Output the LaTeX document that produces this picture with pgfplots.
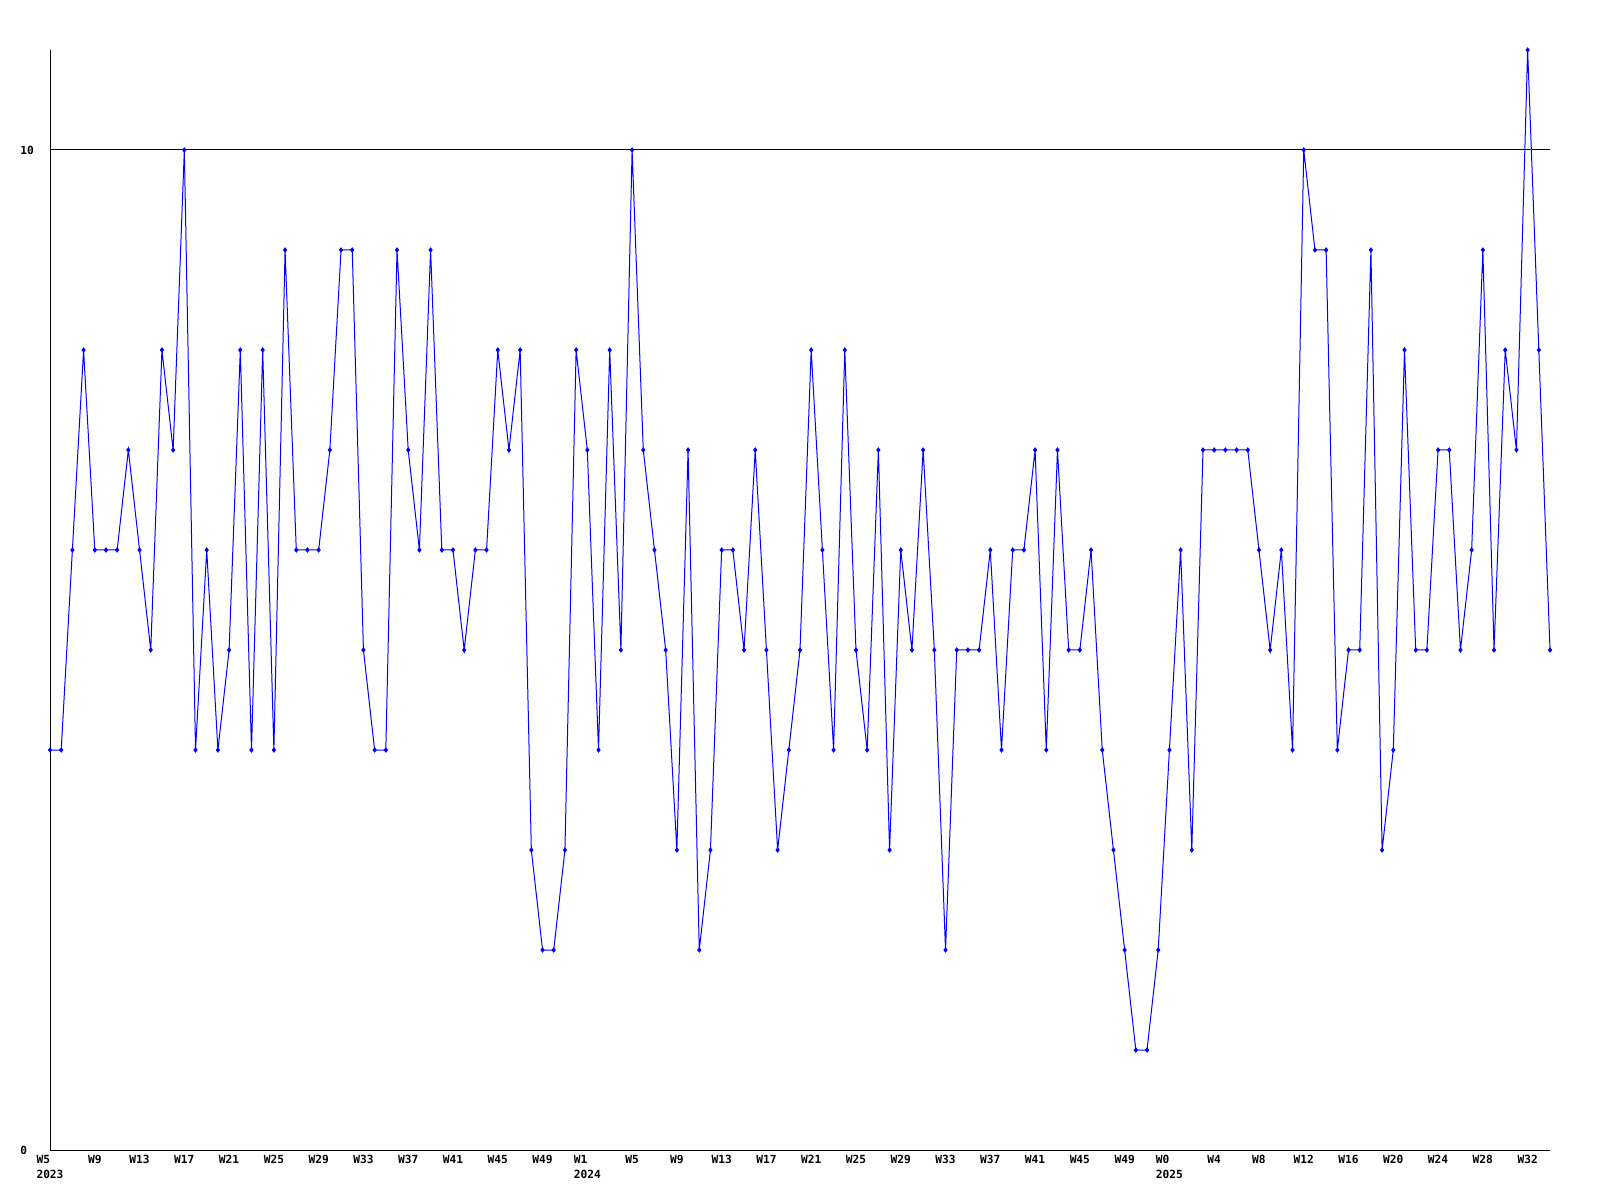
\documentclass[border=0pt]{standalone}
\usepackage{pgfplots}
\pgfplotsset{compat=1.18}
\usepackage{fontspec}
\setmainfont{DejaVu Sans Mono}
\definecolor{lineblue}{RGB}{0,0,255}
\begin{document}
\begin{tikzpicture}
\path[fill=white] (0,0) rectangle (800pt,600pt);
\begin{axis}[
  at={(25pt,25pt)}, anchor=south west,
  scale only axis, width=750pt, height=550pt,
  xmin=0, xmax=134, ymin=0, ymax=11,
  axis x line*=bottom, axis y line*=left,
  axis line style={-, black, line width=0.5pt},
  major tick length=0pt,
  ytick={0,10},
  ymajorgrids, grid style={black, line width=0.5pt},
  xtick={0,4,...,132},
  xticklabels={{W5\\2023},W9,W13,W17,W21,W25,W29,W33,W37,W41,W45,W49,{W1\\2024},W5,W9,W13,W17,W21,W25,W29,W33,W37,W41,W45,W49,{W0\\2025},W4,W8,W12,W16,W20,W24,W28,W32},
  xticklabel style={font=\fontsize{5.6}{7.5}\selectfont\bfseries, inner sep=0pt, yshift=-2.5pt, align=left, anchor=north},
  yticklabel style={font=\fontsize{5.6}{7.5}\selectfont\bfseries, inner sep=0pt, anchor=west, xshift=-15pt},
  /pgf/number format/assume math mode=true,
  clip=false,
]
\addplot[lineblue, line width=0.5pt, mark=diamond*, mark size=1pt, mark options={solid, fill=lineblue}] coordinates {
(0,4) (1,4) (2,6) (3,8) (4,6) (5,6) (6,6) (7,7) (8,6) (9,5)
(10,8) (11,7) (12,10) (13,4) (14,6) (15,4) (16,5) (17,8) (18,4) (19,8)
(20,4) (21,9) (22,6) (23,6) (24,6) (25,7) (26,9) (27,9) (28,5) (29,4)
(30,4) (31,9) (32,7) (33,6) (34,9) (35,6) (36,6) (37,5) (38,6) (39,6)
(40,8) (41,7) (42,8) (43,3) (44,2) (45,2) (46,3) (47,8) (48,7) (49,4)
(50,8) (51,5) (52,10) (53,7) (54,6) (55,5) (56,3) (57,7) (58,2) (59,3)
(60,6) (61,6) (62,5) (63,7) (64,5) (65,3) (66,4) (67,5) (68,8) (69,6)
(70,4) (71,8) (72,5) (73,4) (74,7) (75,3) (76,6) (77,5) (78,7) (79,5)
(80,2) (81,5) (82,5) (83,5) (84,6) (85,4) (86,6) (87,6) (88,7) (89,4)
(90,7) (91,5) (92,5) (93,6) (94,4) (95,3) (96,2) (97,1) (98,1) (99,2)
(100,4) (101,6) (102,3) (103,7) (104,7) (105,7) (106,7) (107,7) (108,6) (109,5)
(110,6) (111,4) (112,10) (113,9) (114,9) (115,4) (116,5) (117,5) (118,9) (119,3)
(120,4) (121,8) (122,5) (123,5) (124,7) (125,7) (126,5) (127,6) (128,9) (129,5)
(130,8) (131,7) (132,11) (133,8) (134,5)
};
\end{axis}
\end{tikzpicture}
\end{document}
